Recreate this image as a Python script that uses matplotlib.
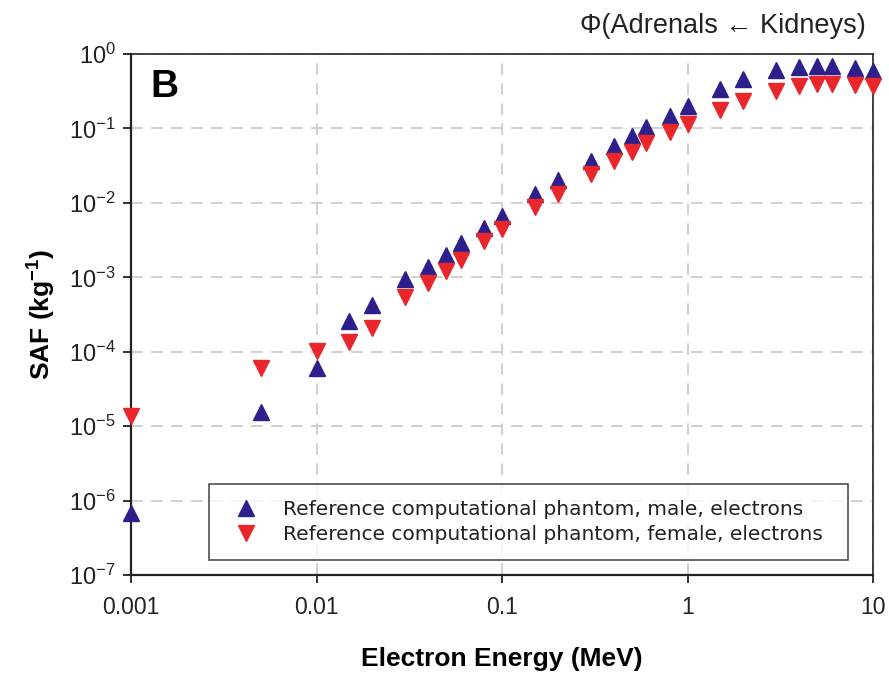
import numpy as np
import matplotlib
matplotlib.use("Agg")
import matplotlib.pyplot as plt
from matplotlib.ticker import FixedLocator, FuncFormatter, NullLocator

plt.rcParams['font.family'] = ['Liberation Sans', 'DejaVu Sans']
plt.rcParams['mathtext.fontset'] = 'custom'
plt.rcParams['mathtext.rm'] = 'Liberation Sans'
plt.rcParams['mathtext.bf'] = 'Liberation Sans:bold'

# electron energies (MeV)
energy = [0.001, 0.005, 0.01, 0.015, 0.02, 0.03, 0.04, 0.05, 0.06, 0.08,
          0.1, 0.15, 0.2, 0.3, 0.4, 0.5, 0.6, 0.8, 1, 1.5, 2, 3, 4, 5, 6, 8, 10]

# SAF (kg^-1), adrenals <- kidneys
saf_male = [6.9e-7, 1.57e-5, 6.1e-5, 2.6e-4, 4.3e-4, 9.4e-4, 1.36e-3, 1.97e-3,
            2.86e-3, 4.55e-3, 6.6e-3, 1.31e-2, 2.0e-2, 3.7e-2, 5.8e-2, 7.9e-2,
            0.104, 0.147, 0.20, 0.34, 0.46, 0.61, 0.67, 0.69, 0.69, 0.65, 0.59]
saf_female = [1.38e-5, 6.1e-5, 1.04e-4, 1.37e-4, 2.1e-4, 5.5e-4, 8.3e-4, 1.2e-3,
              1.69e-3, 3.04e-3, 4.4e-3, 8.7e-3, 1.31e-2, 2.43e-2, 3.6e-2, 4.9e-2,
              6.3e-2, 8.9e-2, 0.114, 0.176, 0.233, 0.32, 0.37, 0.39, 0.39, 0.38, 0.37]

x_ticks = [0.001, 0.01, 0.1, 1, 10]
y_ticks = [1e-7, 1e-6, 1e-5, 1e-4, 1e-3, 1e-2, 1e-1, 1e0]

label_male = "Reference computational phantom, male, electrons"
label_female = "Reference computational phantom, female, electrons"

fig = plt.figure(figsize=(8.89, 6.75), dpi=100)
ax = fig.add_axes([0.1474, 0.148, 0.8346, 0.772])

ax.plot(energy, saf_male, linestyle='none', marker='^', markersize=11,
        color='#2d1f8c', label=label_male, clip_on=False, zorder=3)
ax.plot(energy, saf_female, linestyle='none', marker='v', markersize=11,
        color='#e8262b', label=label_female, clip_on=False, zorder=3)

ax.set_xscale('log')
ax.set_yscale('log')
ax.set_xlim(0.001, 10)
ax.set_ylim(1e-7, 1)

ax.xaxis.set_major_locator(FixedLocator(x_ticks))
ax.xaxis.set_minor_locator(NullLocator())
ax.xaxis.set_major_formatter(FuncFormatter(lambda v, p: f"{v:g}"))
ax.yaxis.set_major_locator(FixedLocator(y_ticks))
ax.yaxis.set_minor_locator(NullLocator())
ax.yaxis.set_major_formatter(FuncFormatter(
    lambda v, p: r"$\mathregular{10^{%d}}$" % int(round(np.log10(v)))))

ax.grid(True, which='major', color='#c8c8c8', linestyle=(0, (7, 5)), linewidth=1.2)
ax.set_axisbelow(True)
ax.tick_params(axis='both', which='major', direction='out', length=6, width=1.3,
               colors='#222222', pad=5)
ax.tick_params(axis='x', labelsize=16.5, pad=9)
ax.tick_params(axis='y', labelsize=17)
for side in ['left', 'bottom']:
    ax.spines[side].set_linewidth(1.6)
    ax.spines[side].set_color('#222222')
for side in ['top', 'right']:
    ax.spines[side].set_linewidth(1.2)
    ax.spines[side].set_color('#222222')

ax.set_xlabel("Electron Energy (MeV)", fontsize=19, fontweight='bold', labelpad=20)
ax.set_ylabel(r"SAF (kg$\mathbf{^{-1}}$)", fontsize=19, fontweight='bold', labelpad=8)

ax.text(0.026, 0.972, "B", transform=ax.transAxes, fontsize=28, fontweight='bold',
        ha='left', va='top')
fig.text(0.974, 0.962, "\u03a6(Adrenals \u2190 Kidneys)", fontsize=19.5,
         ha='right', va='center', color='#222222')

leg = ax.legend(loc='lower left', bbox_to_anchor=(0.105, 0.029, 0.861, 0.149),
                mode='expand', borderaxespad=0, frameon=True, fancybox=False,
                handletextpad=0.8, borderpad=0.8, labelspacing=0.3,
                handlelength=2.1, prop={'family': 'DejaVu Sans', 'size': 14.5},
                markerscale=1.0)
leg.get_frame().set_edgecolor('#222222')
leg.get_frame().set_linewidth(1.2)
for t in leg.get_texts():
    t.set_color('#222222')

fig.savefig("out.png", dpi=100)
